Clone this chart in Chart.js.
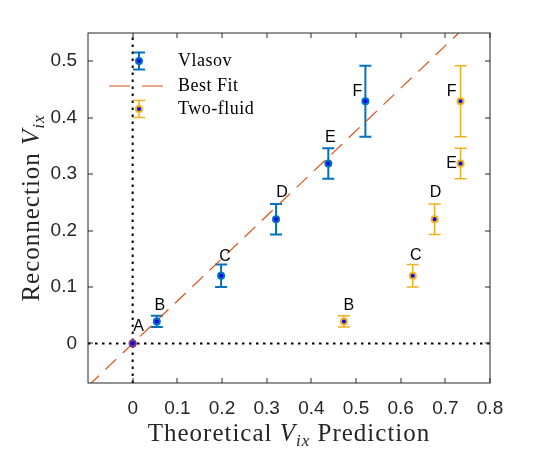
<!DOCTYPE html>
<html>
<head>
<meta charset="utf-8">
<script src="https://cdn.jsdelivr.net/npm/chart.js@4/dist/chart.umd.min.js"></script>
<style>
  html, body { margin: 0; padding: 0; background: #ffffff; }
  #wrap { width: 555px; height: 450px; position: relative; }
</style>
</head>
<body>
<div id="wrap"><canvas id="c" width="555" height="450"></canvas></div>
<script>
// ---- data ----
const pointLabels = ['A', 'B', 'C', 'D', 'E', 'F'];
const vlasovX   = [0, 0.054, 0.198, 0.321, 0.438, 0.521];
const vlasovY   = [0, 0.039, 0.120, 0.220, 0.319, 0.429];
const vlasovErr = [0, 0.010, 0.020, 0.027, 0.027, 0.063];
const fluidX    = [0, 0.473, 0.627, 0.676, 0.734, 0.734];
const fluidY    = [0, 0.039, 0.120, 0.220, 0.319, 0.429];
const fluidErr  = [0, 0.010, 0.020, 0.027, 0.027, 0.063];
const fitX = [-0.1, 0.73];
const fitY = [-0.0754, 0.55];
const xTicks = [0, 0.1, 0.2, 0.3, 0.4, 0.5, 0.6, 0.7, 0.8];
const xTickLabels = ['0', '0.1', '0.2', '0.3', '0.4', '0.5', '0.6', '0.7', '0.8'];
const yTicks = [0, 0.1, 0.2, 0.3, 0.4, 0.5];
const yTickLabels = ['0', '0.1', '0.2', '0.3', '0.4', '0.5'];
const seriesNames = ['Vlasov', 'Best Fit', 'Two-fluid'];

// ---- styles ----
const BLUE_EDGE = '#0072BD', FACE = '#0000FF', ORANGE = '#D95319', YELLOW = '#EDB120', PURPLE = '#7E2F8E', AXIS = '#262626';
const SERIF = '"Liberation Serif", "DejaVu Serif", serif';
const SANS = '"Liberation Sans", Arial, sans-serif';
// pixel offsets of the letter labels relative to their points
const vlasovLabelOffsets = [[6, -17], [3, -16], [4, -19], [6, -27], [2, -26], [-8, -10]];
const fluidLabelOffsets  = [null, [5, -16], [3, -20], [1, -27], [-9, 0], [-9, -10]];

const toPts = (xs, ys) => xs.map((x, i) => ({ x: x, y: ys[i] }));

function drawRich(ctx, parts, cx, baseline, rotate) {
  ctx.save();
  ctx.translate(cx, baseline);
  if (rotate) ctx.rotate(-Math.PI / 2);
  ctx.fillStyle = AXIS;
  ctx.textBaseline = 'alphabetic';
  ctx.textAlign = 'left';
  let total = 0;
  parts.forEach(p => { ctx.font = p.font; ctx.letterSpacing = p.ls || '0px'; total += ctx.measureText(p.t).width; });
  let x = -total / 2;
  parts.forEach(p => {
    ctx.font = p.font; ctx.letterSpacing = p.ls || '0px';
    ctx.fillText(p.t, x, p.dy || 0);
    x += ctx.measureText(p.t).width;
  });
  ctx.restore();
}

function drawErrBar(ctx, px, pyTop, pyBot, color, lw, half) {
  ctx.strokeStyle = color; ctx.lineWidth = lw;
  ctx.beginPath();
  ctx.moveTo(px, pyTop); ctx.lineTo(px, pyBot);
  ctx.moveTo(px - half, pyTop); ctx.lineTo(px + half, pyTop);
  ctx.moveTo(px - half, pyBot); ctx.lineTo(px + half, pyBot);
  ctx.stroke();
}

const customPlugin = {
  id: 'custom',
  beforeDraw(chart) {
    const ctx = chart.ctx;
    ctx.save(); ctx.fillStyle = '#fff'; ctx.fillRect(0, 0, chart.width, chart.height); ctx.restore();
  },
  beforeDatasetsDraw(chart) {
    const ctx = chart.ctx, xs = chart.scales.x, ys = chart.scales.y, a = chart.chartArea;
    ctx.save();
    ctx.beginPath(); ctx.rect(a.left, a.top, a.right - a.left, a.bottom - a.top); ctx.clip();
    // dotted zero lines
    ctx.strokeStyle = '#000'; ctx.lineWidth = 2; ctx.setLineDash([2.5, 4.5]);
    const x0 = xs.getPixelForValue(0), y0 = ys.getPixelForValue(0);
    ctx.beginPath(); ctx.moveTo(x0, a.bottom); ctx.lineTo(x0, a.top); ctx.stroke();
    ctx.beginPath(); ctx.moveTo(a.left, y0); ctx.lineTo(a.right, y0); ctx.stroke();
    ctx.setLineDash([]);
    // error bars
    vlasovX.forEach((x, i) => {
      if (!vlasovErr[i]) return;
      drawErrBar(ctx, xs.getPixelForValue(x), ys.getPixelForValue(vlasovY[i] + vlasovErr[i]),
        ys.getPixelForValue(vlasovY[i] - vlasovErr[i]), BLUE_EDGE, 2, 6);
    });
    fluidX.forEach((x, i) => {
      if (!fluidErr[i]) return;
      drawErrBar(ctx, xs.getPixelForValue(x), ys.getPixelForValue(fluidY[i] + fluidErr[i]),
        ys.getPixelForValue(fluidY[i] - fluidErr[i]), YELLOW, 1.5, 6);
    });
    ctx.restore();
  },
  afterDraw(chart) {
    const ctx = chart.ctx, xs = chart.scales.x, ys = chart.scales.y, a = chart.chartArea;
    ctx.save();
    // box
    ctx.strokeStyle = AXIS; ctx.lineWidth = 1;
    ctx.strokeRect(Math.round(a.left), Math.round(a.top), Math.round(a.right - a.left), Math.round(a.bottom - a.top));
    // inward ticks
    ctx.beginPath();
    xTicks.forEach(v => {
      const px = Math.round(xs.getPixelForValue(v));
      ctx.moveTo(px, a.bottom); ctx.lineTo(px, a.bottom - 5);
      ctx.moveTo(px, a.top); ctx.lineTo(px, a.top + 5);
    });
    yTicks.forEach(v => {
      const py = Math.round(ys.getPixelForValue(v));
      ctx.moveTo(a.left, py); ctx.lineTo(a.left + 5, py);
      ctx.moveTo(a.right, py); ctx.lineTo(a.right - 5, py);
    });
    ctx.stroke();
    // point letters
    ctx.fillStyle = '#000'; ctx.font = '16px ' + SANS; ctx.textAlign = 'center'; ctx.textBaseline = 'middle';
    vlasovX.forEach((x, i) => {
      const o = vlasovLabelOffsets[i];
      ctx.fillText(pointLabels[i], xs.getPixelForValue(x) + o[0], ys.getPixelForValue(vlasovY[i]) + o[1]);
    });
    fluidX.forEach((x, i) => {
      const o = fluidLabelOffsets[i];
      if (!o) return;
      ctx.fillText(pointLabels[i], xs.getPixelForValue(x) + o[0], ys.getPixelForValue(fluidY[i]) + o[1]);
    });
    // legend
    const lx = 139, rows = [61, 86, 109], tx = 178;
    drawErrBar(ctx, lx, rows[0] - 8.5, rows[0] + 8.5, BLUE_EDGE, 2, 6);
    ctx.beginPath(); ctx.arc(lx, rows[0], 3, 0, 2 * Math.PI);
    ctx.fillStyle = FACE; ctx.fill(); ctx.lineWidth = 2; ctx.strokeStyle = BLUE_EDGE; ctx.stroke();
    ctx.strokeStyle = ORANGE; ctx.lineWidth = 1.2;
    ctx.beginPath(); ctx.moveTo(109, rows[1]); ctx.lineTo(130, rows[1]); ctx.moveTo(142, rows[1]); ctx.lineTo(163, rows[1]); ctx.stroke();
    drawErrBar(ctx, lx, rows[2] - 8.5, rows[2] + 8.5, YELLOW, 1.5, 6);
    ctx.beginPath(); ctx.arc(lx, rows[2], 3, 0, 2 * Math.PI);
    ctx.fillStyle = FACE; ctx.fill(); ctx.lineWidth = 2; ctx.strokeStyle = YELLOW; ctx.stroke();
    ctx.fillStyle = '#000'; ctx.font = '18px ' + SERIF; ctx.textAlign = 'left'; ctx.textBaseline = 'middle';
    ctx.letterSpacing = '0.5px';
    seriesNames.forEach((n, i) => ctx.fillText(n, tx, rows[i]));
    ctx.letterSpacing = '0px';
    ctx.restore();
    // axis titles
    const big = '25px ' + SERIF, it = 'italic 25px ' + SERIF, sub = 'italic 17px ' + SERIF;
    drawRich(ctx, [
      { t: 'Theoretical ', font: big, ls: '1px' },
      { t: 'V', font: it, ls: '1px' },
      { t: 'ix', font: sub, dy: 5, ls: '1px' },
      { t: ' Prediction', font: big, ls: '1px' }
    ], (a.left + a.right) / 2, 441, false);
    drawRich(ctx, [
      { t: 'Reconnection ', font: big, ls: '1px' },
      { t: 'V', font: it, ls: '1px' },
      { t: 'ix', font: sub, dy: 5, ls: '1px' }
    ], 39, (a.top + a.bottom) / 2, true);
  }
};

new Chart(document.getElementById('c'), {
  type: 'scatter',
  data: {
    datasets: [
      {
        label: seriesNames[0], data: toPts(vlasovX, vlasovY), order: 1,
        pointRadius: 3, pointHoverRadius: 3, pointBorderWidth: 2,
        pointBackgroundColor: FACE,
        pointBorderColor: ctx => (ctx.dataIndex === 0 ? PURPLE : BLUE_EDGE),
        showLine: false
      },
      {
        label: seriesNames[1], data: toPts(fitX, fitY), order: 2, type: 'line',
        borderColor: ORANGE, borderWidth: 1.2, borderDash: [15, 9], pointRadius: 0,
        fill: false, tension: 0
      },
      {
        label: seriesNames[2], data: toPts(fluidX, fluidY), order: 3,
        pointRadius: 3, pointHoverRadius: 3, pointBorderWidth: 2,
        pointBackgroundColor: FACE, pointBorderColor: YELLOW, showLine: false
      }
    ]
  },
  options: {
    responsive: false,
    animation: false,
    events: [],
    layout: { padding: { left: 0, right: 65, top: 33, bottom: 0 } },
    plugins: { legend: { display: false }, title: { display: false }, tooltip: { enabled: false } },
    scales: {
      x: {
        type: 'linear', min: -0.1, max: 0.8,
        afterBuildTicks: s => { s.ticks = xTicks.map(v => ({ value: v })); },
        afterFit: s => { s.height = 67; },
        grid: { display: false, drawTicks: false },
        border: { display: false },
        ticks: {
          padding: 14, maxRotation: 0, autoSkip: false, color: AXIS,
          font: { family: SANS, size: 19 },
          callback: (v, i) => xTickLabels[i]
        }
      },
      y: {
        type: 'linear', min: -0.07, max: 0.55,
        afterBuildTicks: s => { s.ticks = yTicks.map(v => ({ value: v })); },
        afterFit: s => { s.width = 88; },
        grid: { display: false, drawTicks: false },
        border: { display: false },
        ticks: {
          padding: 11, autoSkip: false, color: AXIS,
          font: { family: SANS, size: 19 },
          callback: (v, i) => yTickLabels[i]
        }
      }
    }
  },
  plugins: [customPlugin]
});
</script>
</body>
</html>
